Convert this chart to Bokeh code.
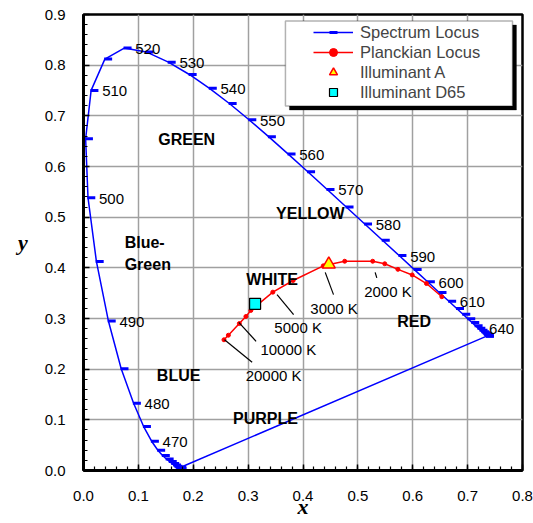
from bokeh.plotting import figure
from bokeh.models import (Range1d, SingleIntervalTicker, NumeralTickFormatter, Legend,
                          LegendItem, ColumnDataSource, BoxAnnotation)
from bokeh.core.properties import value
from bokeh.transform import dodge
from bokeh.embed import file_html
from bokeh.resources import INLINE

# ---------------- data ----------------
wavelength = [380, 385, 390, 395, 400, 405, 410, 415, 420, 425, 430, 435, 440, 445, 450,
              455, 460, 465, 470, 475, 480, 485, 490, 495, 500, 505, 510, 515, 520, 525,
              530, 535, 540, 545, 550, 555, 560, 565, 570, 575, 580, 585, 590, 595, 600,
              605, 610, 615, 620, 625, 630, 635, 640, 645, 650, 655, 660, 665, 670, 675,
              680, 685, 690, 695, 700]
spec_x = [0.1741, 0.1740, 0.1738, 0.1736, 0.1733, 0.1730, 0.1726, 0.1721, 0.1714, 0.1703,
          0.1689, 0.1669, 0.1644, 0.1611, 0.1566, 0.1510, 0.1440, 0.1355, 0.1241, 0.1096,
          0.0913, 0.0687, 0.0454, 0.0235, 0.0082, 0.0039, 0.0139, 0.0389, 0.0743, 0.1142,
          0.1547, 0.1929, 0.2296, 0.2658, 0.3016, 0.3373, 0.3731, 0.4087, 0.4441, 0.4788,
          0.5125, 0.5448, 0.5752, 0.6029, 0.6270, 0.6482, 0.6658, 0.6801, 0.6915, 0.7006,
          0.7079, 0.7140, 0.7190, 0.7230, 0.7260, 0.7283, 0.7300, 0.7311, 0.7320, 0.7327,
          0.7334, 0.7340, 0.7344, 0.7346, 0.7347]
spec_y = [0.0050, 0.0050, 0.0049, 0.0049, 0.0048, 0.0048, 0.0048, 0.0048, 0.0051, 0.0058,
          0.0069, 0.0086, 0.0109, 0.0138, 0.0177, 0.0227, 0.0297, 0.0399, 0.0578, 0.0868,
          0.1327, 0.2007, 0.2950, 0.4127, 0.5384, 0.6548, 0.7502, 0.8120, 0.8338, 0.8262,
          0.8059, 0.7816, 0.7543, 0.7243, 0.6923, 0.6589, 0.6245, 0.5896, 0.5547, 0.5202,
          0.4866, 0.4544, 0.4242, 0.3965, 0.3725, 0.3514, 0.3340, 0.3197, 0.3083, 0.2993,
          0.2920, 0.2859, 0.2809, 0.2770, 0.2740, 0.2717, 0.2700, 0.2689, 0.2680, 0.2673,
          0.2666, 0.2660, 0.2656, 0.2654, 0.2653]
labeled_wl = [470, 480, 490, 500, 510, 520, 530, 540, 550, 560, 570, 580, 590, 600, 610, 640]

planck_T = [20000, 15000, 10000, 8000, 7000, 5000, 4000, 3000, 2500, 2000, 1800, 1600,
            1400, 1200, 1000]
planck_x = [0.256, 0.264, 0.284, 0.296, 0.305, 0.345, 0.382, 0.437, 0.476, 0.527, 0.549,
            0.573, 0.599, 0.625, 0.653]
planck_y = [0.258, 0.267, 0.290, 0.304, 0.316, 0.352, 0.375, 0.404, 0.413, 0.413, 0.408,
            0.397, 0.386, 0.369, 0.343]

illum_A_x = [0.447]
illum_A_y = [0.407]
illum_D65_x = [0.3127]
illum_D65_y = [0.3290]

temp_labels = ["20000 K", "10000 K", "5000 K", "3000 K", "2000 K"]
region_names = ["GREEN", "YELLOW", "WHITE", "RED", "BLUE", "PURPLE"]

# ---------------- annotation layout ----------------
leader_x0 = [0.257, 0.283, 0.3527, 0.4405, 0.5315]
leader_y0 = [0.258, 0.2925, 0.3471, 0.3911, 0.3911]
leader_x1 = [0.3073, 0.3145, 0.3829, 0.4556, 0.5345]
leader_y1 = [0.2136, 0.255, 0.3077, 0.3471, 0.3801]
temp_lx = [0.2955, 0.3224, 0.3478, 0.4133, 0.5115]
temp_ly = [0.1874, 0.2387, 0.282, 0.3201, 0.353]
region_x = [0.188, 0.4133, 0.3436, 0.6024, 0.1733, 0.3315]
region_y = [0.653, 0.5069, 0.3767, 0.2939, 0.1874, 0.102]

FONT = value("Liberation Sans")

p = figure(width=533, height=523, x_range=Range1d(0, 0.8), y_range=Range1d(0, 0.9),
           output_backend="svg", toolbar_location=None,
           min_border_left=83, min_border_right=11, min_border_top=14, min_border_bottom=53)
p.background_fill_color = "white"
p.border_fill_color = "white"
p.outline_line_color = "black"
p.outline_line_width = 2.5

for ax in (p.xaxis[0], p.yaxis[0]):
    ax.ticker = SingleIntervalTicker(interval=0.1, num_minor_ticks=5)
    ax.formatter = NumeralTickFormatter(format="0.0")
    ax.axis_line_width = 3
    ax.axis_line_color = "black"
    ax.major_tick_in = 6
    ax.major_tick_out = 0
    ax.minor_tick_in = 4
    ax.minor_tick_out = 0
    ax.major_tick_line_width = 1.5
    ax.minor_tick_line_width = 1.2
    ax.major_tick_line_color = "black"
    ax.minor_tick_line_color = "black"
    ax.major_label_text_font = "Liberation Sans"
    ax.major_label_text_font_size = "15px"
    ax.major_label_text_color = "black"
    ax.axis_label_text_font = "Liberation Serif"
    ax.axis_label_text_font_style = "bold italic"
    ax.axis_label_text_font_size = "22px"
    ax.axis_label_text_color = "black"

p.xaxis.axis_label = "x"
p.yaxis.axis_label = "y"
p.xaxis.major_label_standoff = 20
p.xaxis.axis_label_standoff = -10
p.yaxis.major_label_standoff = 18
p.yaxis.axis_label_standoff = 14
try:
    p.yaxis.axis_label_orientation = "horizontal"
except Exception:
    pass

p.grid.grid_line_color = "#a0a0a0"
p.grid.grid_line_width = 1.5

# spectrum locus (closed by the purple line)
loc_x = spec_x + [spec_x[0]]
loc_y = spec_y + [spec_y[0]]
spec_line = p.line(loc_x, loc_y, line_color="#0000ff", line_width=1.5)
spec_src = ColumnDataSource(dict(x=spec_x, y=spec_y))
spec_marks = p.scatter(dodge("x", 0.006, range=p.x_range), "y", source=spec_src,
                       marker="dash", size=8, line_color="#0000ff", line_width=3)

lab_x = [spec_x[wavelength.index(w)] for w in labeled_wl]
lab_y = [spec_y[wavelength.index(w)] for w in labeled_wl]
p.text(lab_x, lab_y, text=[str(w) for w in labeled_wl], x_offset=11, y_offset=1,
       text_align="left", text_baseline="middle", text_font=FONT,
       text_font_size="15px", text_color="black")

# planckian locus
pl_line = p.line(planck_x, planck_y, line_color="#ff0000", line_width=1.5)
pl_marks = p.scatter(planck_x, planck_y, marker="circle", size=4,
                     fill_color="#ff0000", line_color="#ff0000")

# leaders and temperature labels
p.segment(leader_x0, leader_y0, leader_x1, leader_y1, line_color="black", line_width=1.2)
p.text(temp_lx, temp_ly, text=temp_labels, text_align="left", text_baseline="middle",
       text_font=FONT, text_font_size="15px", text_color="black")

# illuminants
a_r = p.scatter(illum_A_x, illum_A_y, marker="triangle", size=13,
                fill_color="#ffff00", line_color="#ff0000", line_width=1.5)
d_r = p.scatter(illum_D65_x, illum_D65_y, marker="square", size=11,
                fill_color="#00ffff", line_color="black", line_width=1.2)

# region names
p.text(region_x, region_y, text=region_names, text_align="center", text_baseline="middle",
       text_font=FONT, text_font_style="bold", text_font_size="16px", text_color="black")
p.text([0.075], [0.4284], text=["Blue-\nGreen"], text_align="left", text_baseline="middle",
       text_font=FONT, text_font_style="bold", text_font_size="16px", text_color="black",
       text_line_height=1.25)

# legend box with shadow
p.add_layout(BoxAnnotation(left=0.3753, right=0.789, top=0.8792, bottom=0.7115,
                           fill_color="black", fill_alpha=1, line_color="black"))
p.add_layout(BoxAnnotation(left=0.368, right=0.7818, top=0.8871, bottom=0.7194,
                           fill_color="white", fill_alpha=1, line_color="black",
                           line_width=1.5))

legend = Legend(items=[
    LegendItem(label="Spectrum Locus", renderers=[spec_line, spec_marks]),
    LegendItem(label="Planckian Locus", renderers=[pl_line, pl_marks]),
    LegendItem(label="Illuminant A", renderers=[a_r]),
    LegendItem(label="Illuminant D65", renderers=[d_r]),
], location=(225, 363), padding=5, spacing=0, label_height=20, glyph_height=20,
    glyph_width=40, label_standoff=7, label_text_font="Liberation Sans",
    label_text_font_size="16.5px", background_fill_alpha=0, border_line_alpha=0,
    margin=0)
p.add_layout(legend, "center")

open("out.html", "w").write(file_html(p, INLINE))
